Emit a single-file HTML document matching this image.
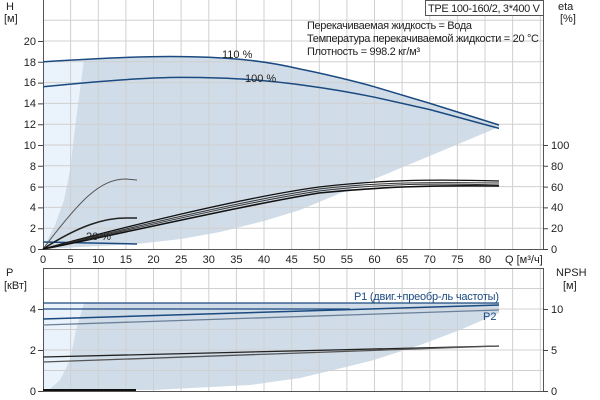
<!DOCTYPE html>
<html><head><meta charset="utf-8"><style>
body{margin:0;background:#fff}
svg{display:block;font-family:"Liberation Sans","DejaVu Sans",sans-serif;font-size:11px}
</style></head><body>
<svg width="600" height="400" viewBox="0 0 600 400">
<path d="M43,61.8 L84,59 L76,120 L70,170 L64,200 L55,225 L43,249 Z" fill="#eaf2fb"/>
<path d="M84,59 L98,58.7 L181,56.6 L236,58.7 L300,69 L374.5,86.8 L430,103.4 L499,125 L499,127 L300,210 L264,221 L220,232 L181,239 L137,244 L43,249 L55,225 L64,200 L70,170 L76,120 Z" fill="#d0dce8"/>
<path d="M43,303 L84,303 L76,330 L70,360 L60,380 L50,389 L43,391 Z" fill="#eaf2fb"/>
<path d="M84,303 L499,303 L499,313 L460,330 L423,344 L374,360 L346,367 L300,378 L250,385 L154,390 L43,391 L50,389 L60,380 L70,360 L76,330 Z" fill="#d0dce8"/>
<g stroke="#d0d0d0" stroke-width="1">
<path d="M70.6,0V249M98.3,0V249M125.9,0V249M153.5,0V249M181.1,0V249M208.8,0V249M236.4,0V249M264,0V249M291.6,0V249M319.3,0V249M346.9,0V249M374.5,0V249M402.1,0V249M429.8,0V249M457.4,0V249M485,0V249M512.6,0V249M540.3,0V249"/>
<path d="M43,228.2H543M43,207.4H543M43,186.6H543M43,165.8H543M43,145H543M43,124.2H543M43,103.4H543M43,82.6H543M43,61.8H543M43,41H543M43,20.2H543"/>
<path d="M70.6,268V391M98.3,268V391M125.9,268V391M153.5,268V391M181.1,268V391M208.8,268V391M236.4,268V391M264,268V391M291.6,268V391M319.3,268V391M346.9,268V391M374.5,268V391M402.1,268V391M429.8,268V391M457.4,268V391M485,268V391M512.6,268V391M540.3,268V391"/>
<path d="M43,370.5H543M43,350H543M43,329.5H543M43,309H543M43,288.5H543"/>
</g>
<g stroke="#555" stroke-width="1" fill="none">
<path d="M43.5,0V249.5H543.5V0"/>
<path d="M43.5,268V391.5H543.5V268M43,268.5H543"/>
</g>
<g stroke="#444">
<path d="M38,249.5H43M38,228.7H43M38,207.9H43M38,187.1H43M38,166.3H43M38,145.5H43M38,124.7H43M38,103.9H43M38,83.1H43M38,62.3H43M38,41.5H43"/>
<path d="M543,249.5H548M543,228.7H548M543,207.9H548M543,187.1H548M543,166.3H548M543,145.5H548"/>
<path d="M38,391.5H43M38,350.5H43M38,309.5H43M543,391.5H548M543,350.5H548M543,309.5H548"/>
</g>
<g fill="none">
<path d="M43,61.8 C90,59 140,56 181,56.6 C236,57 270,62 300,69 C340,77 374.5,86.8 374.5,86.8 L430,103.4 L499,125" stroke="#1a4a80" stroke-width="1.5"/>
<path d="M43,86.8 C90,82 140,77.5 181,77.4 C240,77.5 270,81 300,84.7 C340,90 374.5,97.2 374.5,97.2 L430,109.6 L499,128.4" stroke="#1a4a80" stroke-width="1.5"/>
<path d="M43,242 L137,244" stroke="#1a4a80" stroke-width="1.5"/>
<path d="M43,249 C80,200 100,179 126,179 L137,180" stroke="#555" stroke-width="1"/>
<path d="M43,249 C80,225 105,218 126,218 L137,218" stroke="#222" stroke-width="1.6"/>
<path d="M43,249 C120,228 240,198 319,187 C380,180 430,179 499,181" stroke="#111" stroke-width="1.3"/>
<path d="M43,249 C120,230 240,201 319,189 C380,182 430,182 499,183" stroke="#333" stroke-width="1"/>
<path d="M43,249 C120,232 240,203 319,191 C380,184 430,183 499,185" stroke="#333" stroke-width="1"/>
<path d="M43,249 C120,234 240,206 319,193 C380,187 430,185 499,186" stroke="#111" stroke-width="1.6"/>
</g>
<g fill="none">
<path d="M43,303H499" stroke="#1a4a80" stroke-width="1.3"/>
<path d="M43,309H350" stroke="#1a4a80" stroke-width="1.3"/>
<path d="M43,319L499,305" stroke="#1a4a80" stroke-width="1.5"/>
<path d="M43,325L499,310" stroke="#6a7f98" stroke-width="1.3"/>
<path d="M43,357L499,346" stroke="#222" stroke-width="1.3"/>
<path d="M43,362L499,346" stroke="#555" stroke-width="1.3"/>
<path d="M43,390H136" stroke="#111" stroke-width="2"/>
</g>
<g fill="#222">
<text x="6" y="10">H</text><text x="4" y="22">[м]</text>
<text x="558" y="10">eta</text><text x="560" y="22">[%]</text>
<text x="6" y="276">P</text><text x="4" y="289">[кВт]</text>
<text x="556" y="276">NPSH</text><text x="563" y="289">[м]</text>
<g text-anchor="end">
<text x="36" y="253">0</text><text x="36" y="232">2</text><text x="36" y="211">4</text><text x="36" y="191">6</text><text x="36" y="170">8</text><text x="36" y="149">10</text><text x="36" y="128">12</text><text x="36" y="107">14</text><text x="36" y="86">16</text><text x="36" y="66">18</text><text x="36" y="45">20</text>
<text x="36" y="395">0</text><text x="36" y="354">2</text><text x="36" y="313">4</text>
</g>
<g>
<text x="551" y="253">0</text><text x="551" y="232">20</text><text x="551" y="211">40</text><text x="551" y="191">60</text><text x="551" y="170">80</text><text x="551" y="149">100</text>
<text x="551" y="395">0</text><text x="551" y="354">5</text><text x="551" y="313">10</text>
</g>
<g text-anchor="middle">
<text x="43" y="263">0</text><text x="70.6" y="263">5</text><text x="98.3" y="263">10</text><text x="125.9" y="263">15</text><text x="153.5" y="263">20</text><text x="181.1" y="263">25</text><text x="208.8" y="263">30</text><text x="236.4" y="263">35</text><text x="264" y="263">40</text><text x="291.6" y="263">45</text><text x="319.3" y="263">50</text><text x="346.9" y="263">55</text><text x="374.5" y="263">60</text><text x="402.1" y="263">65</text><text x="429.8" y="263">70</text><text x="457.4" y="263">75</text><text x="485" y="263">80</text>
</g>
<text x="505" y="263">Q [м³/ч]</text>
<text x="222" y="58">110 %</text>
<text x="245" y="82">100 %</text>
<text x="86" y="240">20 %</text>
<text x="307" y="29" textLength="165">Перекачиваемая жидкость = Вода</text>
<text x="307" y="42" textLength="232">Температура перекачиваемой жидкости = 20 °C</text>
<text x="307" y="55" textLength="113">Плотность = 998.2 кг/м³</text>
<text x="354" y="300" fill="#1a4a80" textLength="145">P1 (двиг.+преобр-ль частоты)</text>
<text x="483" y="320" fill="#1a4a80">P2</text>
</g>
<rect x="425.5" y="0.5" width="118" height="15" fill="#fff" stroke="#555"/>
<text x="428" y="12" fill="#222" textLength="112">TPE 100-160/2, 3*400 V</text>
</svg>
</body></html>
